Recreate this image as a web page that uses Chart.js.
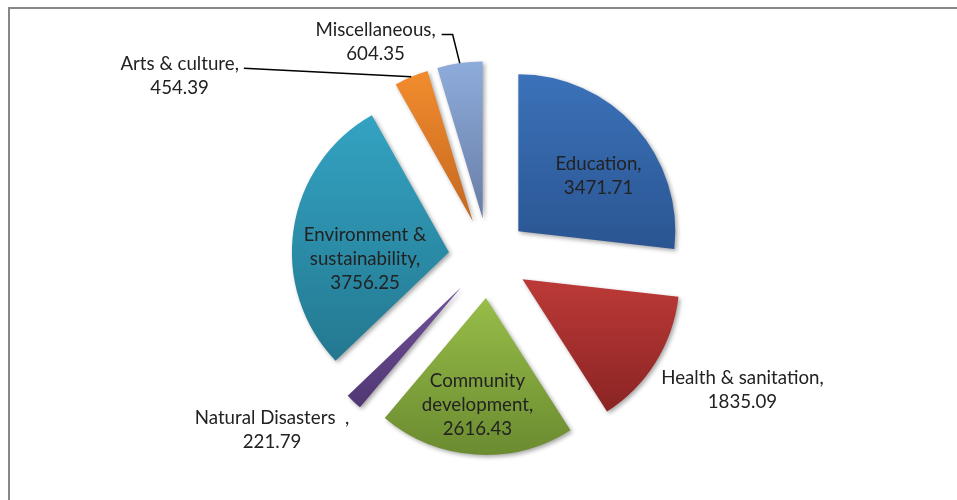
<!DOCTYPE html>
<html><head><meta charset="utf-8">
<script src="https://cdn.jsdelivr.net/npm/chart.js@4"></script>
<style>
html,body{margin:0;padding:0;background:#fff;}
#wrap{position:relative;width:957px;height:500px;overflow:hidden;background:#fff;}
#frame{position:absolute;left:8px;top:7px;width:980px;height:520px;border-left:2px solid #878787;border-top:2px solid #878787;}
canvas{position:absolute;left:0;top:0;}
</style></head><body>
<div id="wrap"><div id="frame"></div><canvas id="c" width="957" height="500"></canvas></div>
<script>
// ---- data ----
const categories = ['Education', 'Health & sanitation', 'Community development', 'Natural Disasters  ', 'Environment & sustainability', 'Arts & culture', 'Miscellaneous'];
const values = [3471.71, 1835.09, 2616.43, 221.79, 3756.25, 454.39, 604.35];

// ---- styles / layout ----
const gradTop    = ['#3B72B9', '#BC3A37', '#98BD48', '#70509A', '#33A3C2', '#F28C2E', '#8EACDB'];
const gradBottom = ['#2A5592', '#8A2424', '#6B8B30', '#503873', '#247890', '#C4671F', '#687DA6'];
const RADIUS = 157, EXPLODE = 40;
const FONT_SIZE = 18.7, LINE_H = 24;
const labelBreakAfter = [null, null, 'Community', null, 'Environment &', null, null];
// [distance as fraction of radius, angle shift from bisector in degrees]
const labelPlace = [[0.619, 7.4], [1.569, -5.2], [0.682, 0.75], [1.509, 9.8], [0.536, -13.3], [2.083, -40.6], [1.317, -22.8]];
const leaders = [null, null, null, null, null, {elbow: 0, gap: 5, dy: 4}, {elbow: 11, gap: 6, dy: 5}];

function labelLines(i) {
  const name = categories[i] + ',';
  const b = labelBreakAfter[i];
  const lines = b ? [b, name.slice(b.length).trim()] : [name];
  lines.push(values[i].toFixed(2));
  return lines;
}

const explodePlugin = {
  id: 'explode',
  beforeDatasetsDraw(chart) {
    const meta = chart.getDatasetMeta(0);
    const ca = chart.chartArea;
    const cx = (ca.left + ca.right) / 2, cy = (ca.top + ca.bottom) / 2;
    const c = chart.ctx;
    meta.data.forEach((arc, i) => {
      const mid = (arc.startAngle + arc.endAngle) / 2;
      arc.x = cx + Math.cos(mid) * EXPLODE;
      arc.y = cy + Math.sin(mid) * EXPLODE;
      const r = arc.outerRadius;
      const ys = [arc.y, arc.y + Math.sin(arc.startAngle) * r, arc.y + Math.sin(arc.endAngle) * r];
      for (const a of [-Math.PI / 2, Math.PI / 2, 3 * Math.PI / 2]) {
        if (a >= arc.startAngle && a <= arc.endAngle) ys.push(arc.y + Math.sin(a) * r);
      }
      const top = Math.min(...ys), bot = Math.max(...ys);
      const g = c.createLinearGradient(0, top, 0, bot);
      g.addColorStop(0, gradTop[i]);
      g.addColorStop(1, gradBottom[i]);
      try { arc.options.backgroundColor = g; } catch (e) {}
    });
    c.save();
    c.shadowColor = 'rgba(0,0,0,0.35)';
    c.shadowBlur = 4;
    c.shadowOffsetX = 2;
    c.shadowOffsetY = 2;
  },
  afterDatasetsDraw(chart) {
    const c = chart.ctx;
    c.restore();
    const meta = chart.getDatasetMeta(0);
    c.save();
    c.font = FONT_SIZE + 'px Lato';
    c.fillStyle = '#222';
    c.textAlign = 'center';
    c.textBaseline = 'middle';
    meta.data.forEach((arc, i) => {
      const mid = (arc.startAngle + arc.endAngle) / 2;
      const [k, dDeg] = labelPlace[i];
      const a = mid + dDeg * Math.PI / 180;
      const r = arc.outerRadius;
      const lx = arc.x + Math.cos(a) * k * r;
      const ly = arc.y + Math.sin(a) * k * r;
      const lines = labelLines(i);
      const y0 = ly - (lines.length - 1) * LINE_H / 2;
      lines.forEach((t, j) => c.fillText(t, lx, y0 + j * LINE_H));
      const L = leaders[i];
      if (L) {
        const sx = lx + c.measureText(lines[0]).width / 2 + L.gap;
        const sy = y0 + L.dy;
        const ex = arc.x + Math.cos(mid) * r;
        const ey = arc.y + Math.sin(mid) * r;
        c.beginPath();
        c.strokeStyle = '#000';
        c.lineWidth = 1.5;
        c.moveTo(sx, sy);
        if (L.elbow) c.lineTo(sx + L.elbow, sy);
        c.lineTo(ex, ey);
        c.stroke();
      }
    });
    c.restore();
  }
};

new Chart(document.getElementById('c'), {
  type: 'pie',
  data: {
    labels: categories,
    datasets: [{
      data: values,
      backgroundColor: gradTop,
      borderWidth: 0,
      hoverOffset: 0
    }]
  },
  options: {
    responsive: false,
    animation: false,
    events: [],
    radius: RADIUS,
    layout: {padding: {left: 20, right: 0, top: 16, bottom: 0}},
    plugins: {legend: {display: false}, tooltip: {enabled: false}}
  },
  plugins: [explodePlugin]
});
</script>
</body></html>
